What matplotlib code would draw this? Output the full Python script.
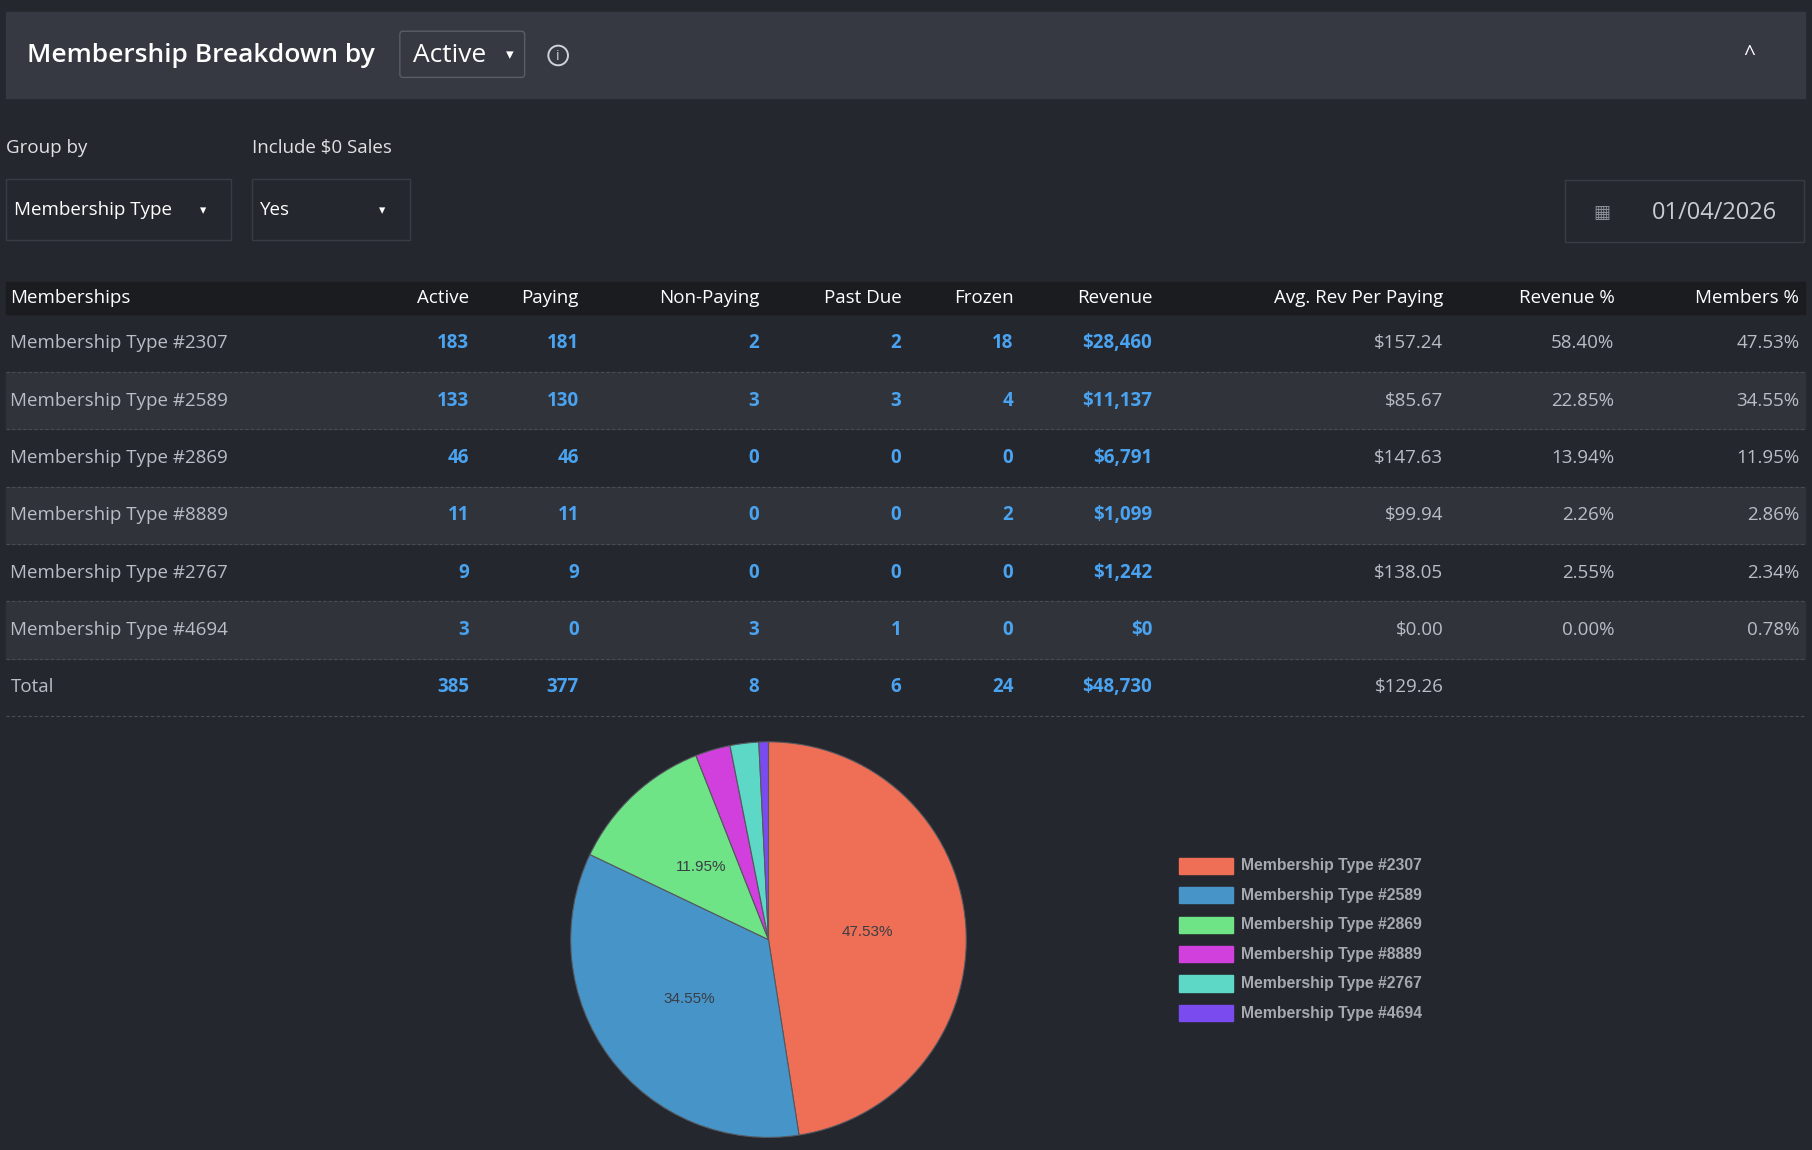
import matplotlib.pyplot as plt
from matplotlib.patches import Rectangle, FancyBboxPatch

plt.rcParams['font.family'] = ['Open Sans', 'DejaVu Sans']

memberships = ['Membership Type #2307', 'Membership Type #2589', 'Membership Type #2869',
               'Membership Type #8889', 'Membership Type #2767', 'Membership Type #4694']
active = [183, 133, 46, 11, 9, 3]
paying = [181, 130, 46, 11, 9, 0]
non_paying = [2, 3, 0, 0, 0, 3]
past_due = [2, 3, 0, 0, 0, 1]
frozen = [18, 4, 0, 2, 0, 0]
revenue = ['$28,460', '$11,137', '$6,791', '$1,099', '$1,242', '$0']
avg_rev = ['$157.24', '$85.67', '$147.63', '$99.94', '$138.05', '$0.00']
revenue_pct = ['58.40%', '22.85%', '13.94%', '2.26%', '2.55%', '0.00%']
members_pct = [47.53, 34.55, 11.95, 2.86, 2.34, 0.78]
totals = ['385', '377', '8', '6', '24', '$48,730', '$129.26']
columns = ['Active', 'Paying', 'Non-Paying', 'Past Due', 'Frozen', 'Revenue',
           'Avg. Rev Per Paying', 'Revenue %', 'Members %']
pie_colors = ['#ee6f55', '#4694c8', '#6ee487', '#d13fdd', '#5dd7c6', '#7a4cf0']

BG = '#25272e'
GRAY = '#b9bdc5'
BLUE = '#4aa3f0'

W, H = 1568, 995
fig = plt.figure(figsize=(18.12, 11.5), dpi=100, facecolor=BG)
ax = fig.add_axes([0, 0, 1, 1])
ax.set_xlim(0, W)
ax.set_ylim(H, 0)
ax.axis('off')
ax.set_facecolor(BG)

# header panel
ax.add_patch(Rectangle((5, 10), 1557, 75, color='#363941'))
ax.text(23, 48, 'Membership Breakdown by', color='white', fontsize=19, fontweight='semibold', va='center')
ax.add_patch(FancyBboxPatch((346, 27), 108, 40, boxstyle='round,pad=0,rounding_size=3',
                            fc='#363941', ec='#5a5d66', lw=1))
ax.text(357, 48, 'Active', color='white', fontsize=19, va='center')
ax.text(441, 48, '▾', color='white', fontsize=11, va='center', ha='center')
ax.add_patch(plt.Circle((483, 48), 8.5, fill=False, ec='#cfd2d8', lw=1.4))
ax.text(483, 49, 'i', color='#cfd2d8', fontsize=10, ha='center', va='center')
ax.text(1514, 48, '^', color='white', fontsize=15, ha='center', va='center')

# filters
ax.text(5, 128, 'Group by', color='#dfe1e5', fontsize=13.5, va='center')
ax.text(218, 128, 'Include $0 Sales', color='#dfe1e5', fontsize=13.5, va='center')
for x0, w, label in [(5, 195, 'Membership Type'), (218, 137, 'Yes')]:
    ax.add_patch(Rectangle((x0, 155), w, 53, fc=BG, ec='#393c44', lw=1))
    ax.text(x0 + 7, 182, label, color='white', fontsize=13.5, va='center')
    ax.text(x0 + w - 24, 182, '▾', color='white', fontsize=9, va='center', ha='center')
ax.add_patch(Rectangle((1354, 156), 207, 53, fc=BG, ec='#393c44', lw=1))
ax.text(1386, 184, '▦', color='#8a8e96', fontsize=13, va='center', ha='center')
ax.text(1538, 184, '01/04/2026', color='#c9ccd2', fontsize=17, va='center', ha='right')

# table
col_right = [406, 501, 657, 780, 877, 997, 1249, 1397, 1557]
ax.add_patch(Rectangle((5, 244), 1557, 28, color='#1b1c20'))
ax.text(9, 258, 'Memberships', color='white', fontsize=13.5, va='center')
for x, c in zip(col_right, columns):
    ax.text(x, 258, c, color='white', fontsize=13.5, va='center', ha='right')

row_h = 49.6
for i, name in enumerate(memberships):
    yc = 297 + i * row_h
    if i % 2 == 1:
        ax.add_patch(Rectangle((5, yc - row_h / 2), 1557, row_h, color='#30333a'))
    ax.plot([5, 1562], [yc + row_h / 2, yc + row_h / 2], color='#4a4d55', lw=0.8, ls=(0, (3, 2)))
    ax.text(9, yc, name, color=GRAY, fontsize=13.5, va='center')
    vals = [active[i], paying[i], non_paying[i], past_due[i], frozen[i], revenue[i]]
    for x, v in zip(col_right[:6], vals):
        ax.text(x, yc, str(v), color=BLUE, fontsize=13.5, fontweight='bold', va='center', ha='right')
    for x, v in zip(col_right[6:], [avg_rev[i], revenue_pct[i], f'{members_pct[i]:.2f}%']):
        ax.text(x, yc, v, color=GRAY, fontsize=13.5, va='center', ha='right')
yt = 297 + 6 * row_h
ax.text(9, yt, 'Total', color=GRAY, fontsize=13.5, va='center')
for x, v in zip(col_right[:6], totals[:6]):
    ax.text(x, yt, v, color=BLUE, fontsize=13.5, fontweight='bold', va='center', ha='right')
ax.text(col_right[6], yt, totals[6], color=GRAY, fontsize=13.5, va='center', ha='right')
ax.plot([5, 1562], [yt + row_h / 2, yt + row_h / 2], color='#4a4d55', lw=0.8, ls=(0, (3, 2)))

# pie
cx, cy, r = 665, 813, 172
pax = fig.add_axes([(cx - r) / W, 1 - (cy + r) / H, 2 * r / W, 2 * r / H])
labels = [f'{p:.2f}%' if p > 5 else '' for p in members_pct]
wedges, texts = pax.pie(active, colors=pie_colors, startangle=90, counterclock=False,
                        labels=labels, labeldistance=0.5,
                        textprops=dict(color='#3b3d44', fontsize=11, family='Liberation Sans'),
                        wedgeprops=dict(ec='#55585f', lw=0.8))
for t in texts:
    t.set_ha('center')
    t.set_va('center')
pax.set_aspect('auto')
pax.set_xlim(-1.005, 1.005)
pax.set_ylim(-1.005, 1.005)

# legend
for i, (name, col) in enumerate(zip(memberships, pie_colors)):
    y = 749 + i * 25.5
    ax.add_patch(Rectangle((1020, y - 7), 47, 14, color=col))
    ax.text(1074, y, name, color='#a6a9b0', fontsize=11.3, fontweight='bold',
            family='Liberation Sans', va='center')

fig.savefig('out.png', dpi=100, facecolor=BG)
